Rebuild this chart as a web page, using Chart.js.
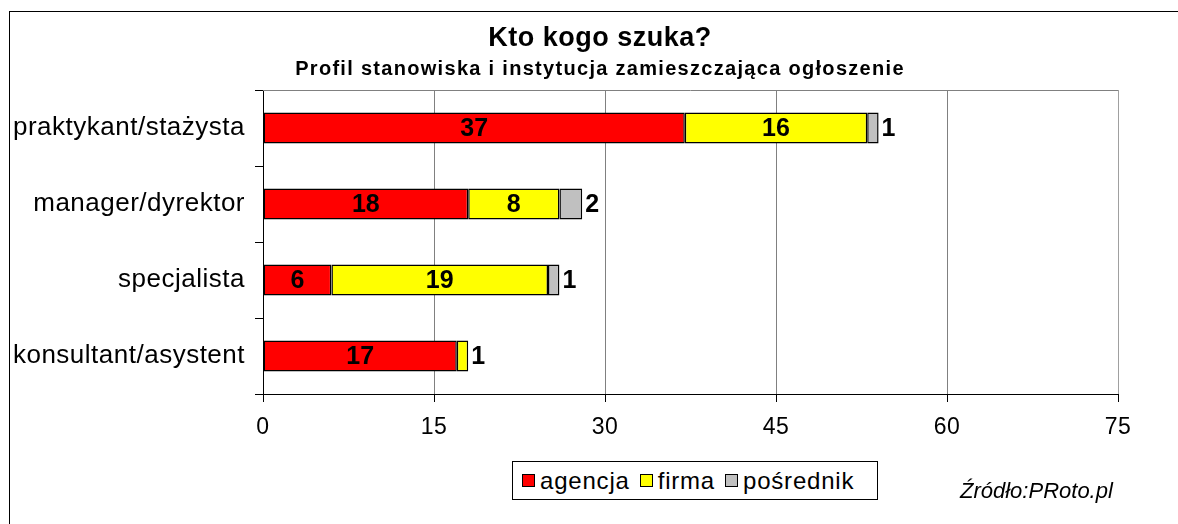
<!DOCTYPE html>
<html lang="pl">
<head>
<meta charset="UTF-8">
<title>Kto kogo szuka?</title>
<script src="https://cdn.jsdelivr.net/npm/chart.js@4.4.1/dist/chart.umd.min.js"></script>
<style>
  html, body { margin: 0; padding: 0; background: #fff; overflow: hidden; }
  body { width: 1178px; height: 524px; position: relative; font-family: 'Liberation Sans', Arial, sans-serif; color: #000; }
  #frame { position: absolute; left: 9px; top: 11px; width: 1200px; height: 600px; border: 1px solid #000; }
  #wrap { position: absolute; left: 0; top: 0; width: 1178px; height: 524px; }
  .title { position: absolute; left: 0; width: 1200px; text-align: center; font-weight: bold; white-space: nowrap; }
  #t1 { top: 22px; font-size: 27px; line-height: 30px; letter-spacing: 0.5px; }
  #t2 { top: 56px; font-size: 20px; line-height: 24px; letter-spacing: 1.3px; }
  #legend { position: absolute; left: 512px; top: 461px; width: 366px; height: 39px; border: 1px solid #000;
            display: flex; align-items: center; box-sizing: border-box; padding-left: 9px; background: #fff; }
  #legend .item { display: flex; align-items: center; margin-right: 10px; font-size: 24px; letter-spacing: 0.8px; }
  #legend .box { width: 11px; height: 11px; border: 1px solid #000; margin-right: 5px; }
  #source { position: absolute; left: 960px; top: 478px; font-size: 22px; font-style: italic; white-space: nowrap; }
</style>
</head>
<body>
<div id="frame"></div>
<div id="wrap"><canvas id="chart"></canvas></div>
<div class="title" id="t1">Kto kogo szuka?</div>
<div class="title" id="t2">Profil stanowiska i instytucja zamieszczająca ogłoszenie</div>
<div id="legend"></div>
<div id="source">Źródło:PRoto.pl</div>

<script>
// dane
const categories = ['praktykant/stażysta', 'manager/dyrektor', 'specjalista', 'konsultant/asystent'];
const seriesNames = ['agencja', 'firma', 'pośrednik'];
const agencja = [37, 18, 6, 17];
const firma = [16, 8, 19, 1];
const posrednik = [1, 2, 1, 0];
const xTicks = [0, 15, 30, 45, 60, 75];
const colors = ['#ff0000', '#ffff00', '#c0c0c0'];

const seriesValues = [agencja, firma, posrednik];

// legenda w ramce
const legendEl = document.getElementById('legend');
seriesNames.forEach((name, i) => {
    const item = document.createElement('div');
    item.className = 'item';
    item.innerHTML = '<span class="box" style="background:' + colors[i] + '"></span><span>' + name + '</span>';
    legendEl.appendChild(item);
});

// etykiety wartosci na slupkach
const barLabels = {
    id: 'barLabels',
    afterDatasetsDraw(chart) {
        const ctx = chart.ctx;
        ctx.save();
        ctx.letterSpacing = '0px';
        ctx.fillStyle = '#000';
        ctx.font = 'bold 25px "Liberation Sans", Arial, sans-serif';
        ctx.textBaseline = 'middle';
        chart.data.datasets.forEach((ds, di) => {
            const meta = chart.getDatasetMeta(di);
            meta.data.forEach((bar, i) => {
                const v = ds.data[i];
                if (!v) return;
                const w = Math.abs(bar.x - bar.base);
                if (w > 30) {
                    ctx.textAlign = 'center';
                    ctx.fillText(String(v), (bar.x + bar.base) / 2, bar.y + 1);
                } else {
                    ctx.textAlign = 'left';
                    ctx.fillText(String(v), bar.x + 3, bar.y + 1);
                }
            });
        });
        ctx.restore();
    }
};

// lekko rozstrzelony tekst osi + szara gorna krawedz
const frameLines = {
    id: 'frameLines',
    beforeDraw(chart) {
        chart.ctx.letterSpacing = '0.5px';
    },
    beforeDatasetsDraw(chart) {
        const a = chart.chartArea;
        const ctx = chart.ctx;
        ctx.save();
        ctx.strokeStyle = '#808080';
        ctx.lineWidth = 1;
        ctx.beginPath();
        ctx.moveTo(a.left, a.top + 0.5);
        ctx.lineTo(a.right, a.top + 0.5);
        ctx.stroke();
        ctx.restore();
    }
};

new Chart(document.getElementById('chart'), {
    type: 'bar',
    data: {
        labels: categories,
        datasets: seriesNames.map((name, i) => ({
            label: name,
            data: seriesValues[i],
            backgroundColor: colors[i],
            borderColor: '#000',
            borderWidth: 1.5,
            borderSkipped: false,
            categoryPercentage: 1,
            barPercentage: 0.41
        }))
    },
    options: {
        responsive: true,
        maintainAspectRatio: false,
        animation: false,
        indexAxis: 'y',
        layout: { padding: { top: 90, right: 60, left: 0, bottom: 0 } },
        plugins: {
            legend: { display: false },
            title: { display: false },
            tooltip: { enabled: false }
        },
        scales: {
            x: {
                stacked: true,
                min: xTicks[0],
                max: xTicks[xTicks.length - 1],
                ticks: {
                    stepSize: xTicks[1] - xTicks[0],
                    color: '#000',
                    font: { family: "'Liberation Sans', Arial, sans-serif", size: 23 },
                    padding: 12
                },
                grid: {
                    color: c => (c.tick && c.tick.value === xTicks[xTicks.length - 1]) ? '#a0a0a0' : '#808080',
                    tickColor: '#000',
                    tickLength: 8,
                    lineWidth: 1
                },
                border: { color: '#000', width: 1 },
                afterFit: s => { s.height = 130; }
            },
            y: {
                stacked: true,
                ticks: {
                    color: '#000',
                    font: { family: "'Liberation Sans', Arial, sans-serif", size: 26 },
                    padding: 10
                },
                grid: {
                    drawOnChartArea: false,
                    tickColor: '#000',
                    tickLength: 8,
                    offset: true
                },
                border: { color: '#000', width: 1 },
                afterFit: s => { s.width = 263; }
            }
        }
    },
    plugins: [barLabels, frameLines]
});
</script>
</body>
</html>
